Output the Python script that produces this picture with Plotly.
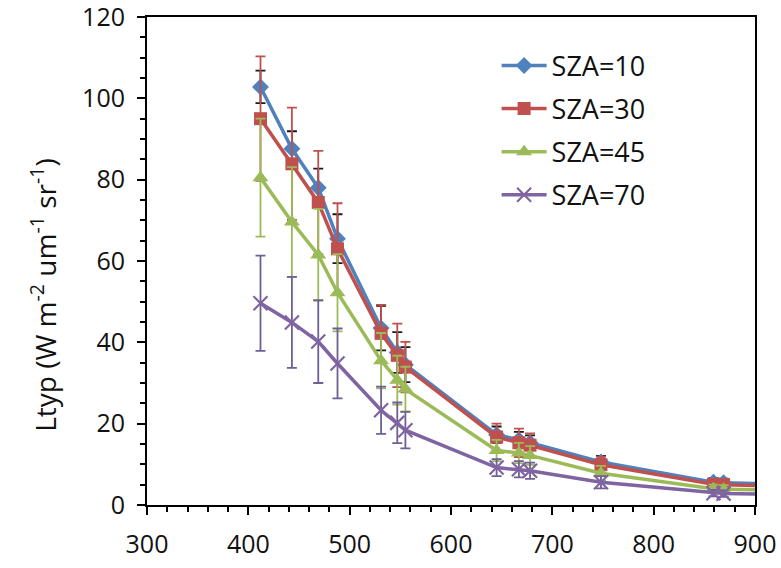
import plotly.graph_objects as go

wavelength = [412, 443, 469, 488, 531, 547, 555, 645, 667, 678, 748, 859, 869, 1240]

sza10 = [102.8, 87.6, 78.0, 65.5, 43.5, 37.5, 34.5, 17.3, 16.0, 15.3, 10.6, 5.6, 5.5, 3.0]
sza30 = [95.0, 83.9, 74.4, 63.0, 42.2, 36.8, 33.9, 16.7, 15.3, 14.7, 9.9, 5.1, 5.0, 2.7]
sza45 = [80.5, 69.6, 61.5, 52.2, 35.5, 30.7, 28.5, 13.4, 12.8, 12.2, 7.8, 4.0, 3.9, 2.1]
sza70 = [49.6, 44.9, 40.2, 34.8, 23.3, 20.2, 18.4, 9.2, 8.8, 8.4, 5.6, 2.9, 2.8, 1.5]

err10 = [4.0, 4.3, 4.7, 6.0, 5.5, 5.0, 4.3, 2.0, 2.0, 1.8, 1.5, 1.0, 1.0, 0.5]
err30 = [15.3, 13.8, 12.7, 11.2, 7.0, 7.8, 6.2, 3.3, 3.5, 2.9, 2.0, 1.2, 1.2, 0.5]
err45 = [14.5, 13.5, 11.3, 9.5, 6.8, 6.0, 5.5, 2.6, 2.5, 2.3, 1.8, 1.0, 1.0, 0.5]
err70 = [11.7, 11.2, 10.2, 8.6, 5.8, 5.0, 4.5, 2.1, 2.0, 2.0, 1.5, 0.8, 0.8, 0.4]

names = ["SZA=10", "SZA=30", "SZA=45", "SZA=70"]
series = [sza10, sza30, sza45, sza70]
errors = [err10, err30, err45, err70]
colors = ["#4F81BD", "#C0504D", "#9BBB59", "#8064A2"]
err_colors = ["#1a1a1a", "#C0504D", "#9BBB59", "#6E5F96"]
symbols = ["diamond", "square", "triangle-up", "x-thin"]
sizes = [13, 13, 14, 14]

y_title = "Ltyp (W m<sup>-2</sup> um<sup>-1</sup> sr<sup>-1</sup>)"

FONT = "Open Sans"

fig = go.Figure()
for i in range(4):
    marker = dict(symbol=symbols[i], size=sizes[i], color=colors[i])
    if symbols[i] == "x-thin":
        marker["line"] = dict(width=2.2, color=colors[i])
    else:
        marker["line"] = dict(width=0)
    fig.add_trace(go.Scatter(
        x=wavelength, y=series[i], name=names[i], mode="lines+markers",
        line=dict(color=colors[i], width=3.5),
        marker=marker,
        error_y=dict(type="data", array=errors[i], visible=True,
                     color=err_colors[i], thickness=1.8, width=5),
        legendgroup=names[i],
        cliponaxis=True,
    ))

fig.update_layout(
    width=781, height=568,
    margin=dict(l=147, r=26, t=17, b=63, autoexpand=False),
    paper_bgcolor="white", plot_bgcolor="white",
    font=dict(family=FONT, size=24, color="#111111"),
    showlegend=True,
    legend=dict(x=0.575, y=0.95, xanchor="left", yanchor="top",
                font=dict(family=FONT, size=27, color="#111111"),
                bgcolor="rgba(0,0,0,0)", tracegroupgap=5,
                itemwidth=45),
    xaxis=dict(range=[300, 900], dtick=100, tick0=300, automargin=False,
               showline=True, linecolor="black", linewidth=2, mirror=True,
               ticks="outside", ticklen=8, tickwidth=2, tickcolor="black",
               minor=dict(dtick=20, ticks="outside", ticklen=5, tickwidth=1.5, tickcolor="black"),
               showgrid=False, zeroline=False,
               tickfont=dict(family=FONT, size=25),
               ticklabeloverflow="allow",
               ticklabelstandoff=8),
    yaxis=dict(range=[0, 120], dtick=20, tick0=0, automargin=False,
               showline=True, linecolor="black", linewidth=2, mirror=True,
               ticks="outside", ticklen=8, tickwidth=2, tickcolor="black",
               minor=dict(dtick=5, ticks="outside", ticklen=5, tickwidth=1.5, tickcolor="black"),
               showgrid=False, zeroline=False,
               tickfont=dict(family=FONT, size=25),
               ticklabeloverflow="allow",
               ticklabelstandoff=7),
    annotations=[dict(text=y_title, textangle=-90, xref="paper", yref="paper",
                      x=-0.17, y=0.43, xanchor="center", yanchor="middle",
                      showarrow=False, font=dict(family=FONT, size=28, color="#111111"))],
)

fig.write_html("out.html")
